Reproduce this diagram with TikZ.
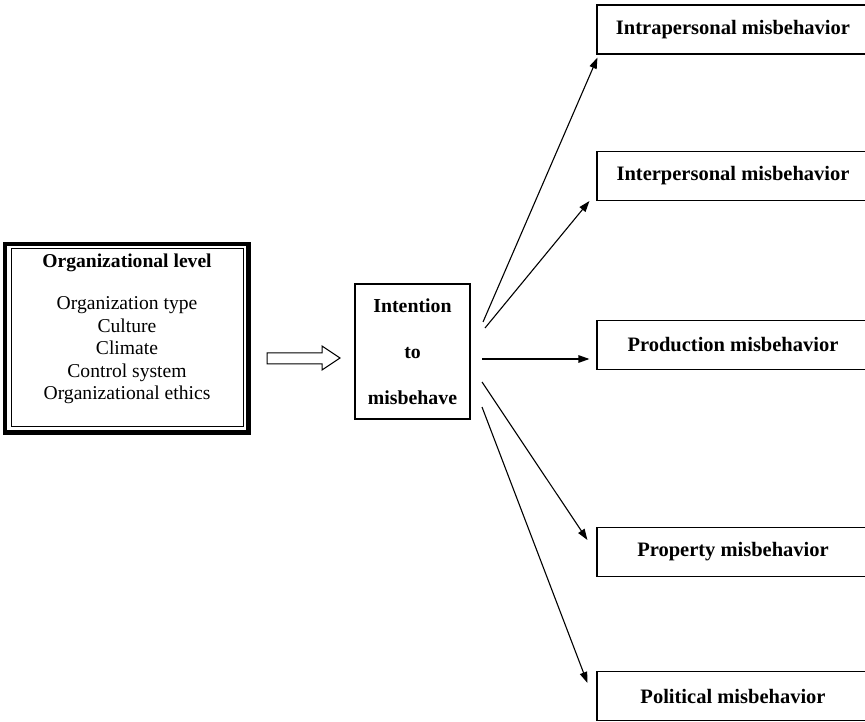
\documentclass[tikz,border=0pt]{standalone}
\usepackage{fontspec}
\setmainfont{Liberation Serif}
\usetikzlibrary{arrows.meta,calc}
\begin{document}
\begin{tikzpicture}[x=1pt,y=1pt,
  outbox/.style={draw,line width=1.1pt,minimum width=272pt,minimum height=49pt,inner sep=0pt,font=\fontsize{20.5}{24}\selectfont\bfseries},
  conn/.style={line width=1.1pt,-{Triangle[length=11pt,width=7.5pt]}}]
\useasboundingbox (0,0) rectangle (865,721);
\clip (0,0) rectangle (865,721);
% left box
\node[draw,line width=1pt,minimum width=232pt,minimum height=178pt,inner sep=0pt] (org) at (127,383) {};
\draw[line width=4.5pt] ($(org.south west)+(-5.5,-5)$) rectangle ($(org.north east)+(5,4.5)$);
\node[align=center,inner sep=0pt,font=\fontsize{19.6}{22.5}\selectfont] (orgtxt) at (127,392)
  {\textbf{Organizational level}\\[20pt]Organization type\\Culture\\Climate\\Control system\\Organizational ethics};
% middle box
\node[draw,line width=1.1pt,minimum width=115pt,minimum height=135pt,inner sep=0pt,align=center,
  font=\fontsize{19.8}{46}\selectfont\bfseries] (intent) at (412.5,369.5) {Intention\\to\\misbehave};
% hollow arrow
\draw[line width=1pt] (267,368) -- (322,368) -- (322,375) -- (340,363) -- (322,351) -- (322,357) -- (267,357) -- cycle;
% right boxes
\node[outbox] (intra) at (733,691.5) {Intrapersonal misbehavior};
\node[outbox] (inter) at (733,545) {Interpersonal misbehavior};
\node[outbox] (prod) at (733,376) {Production misbehavior};
\node[outbox] (prop) at (733,169) {Property misbehavior};
\node[outbox] (pol) at (733,25) {Political misbehavior};
% connector starts
\coordinate (s1) at (483,399);
\coordinate (s2) at (485,393);
\coordinate (s3) at (482,362);
\coordinate (s4) at (482,339);
\coordinate (s5) at (482,314);
\draw[conn] (s1) -- ($(intra.south west)+(1,-3)$);
\draw[conn] (s2) -- ($(inter.south west)+(-7,0)$);
\draw[conn] (s3) -- ($(prod.west)+(-7,-14)$);
\draw[conn] (s4) -- ($(prop.west)+(-9,12)$);
\draw[conn] (s5) -- ($(pol.west)+(-9,13)$);
\end{tikzpicture}
\end{document}
